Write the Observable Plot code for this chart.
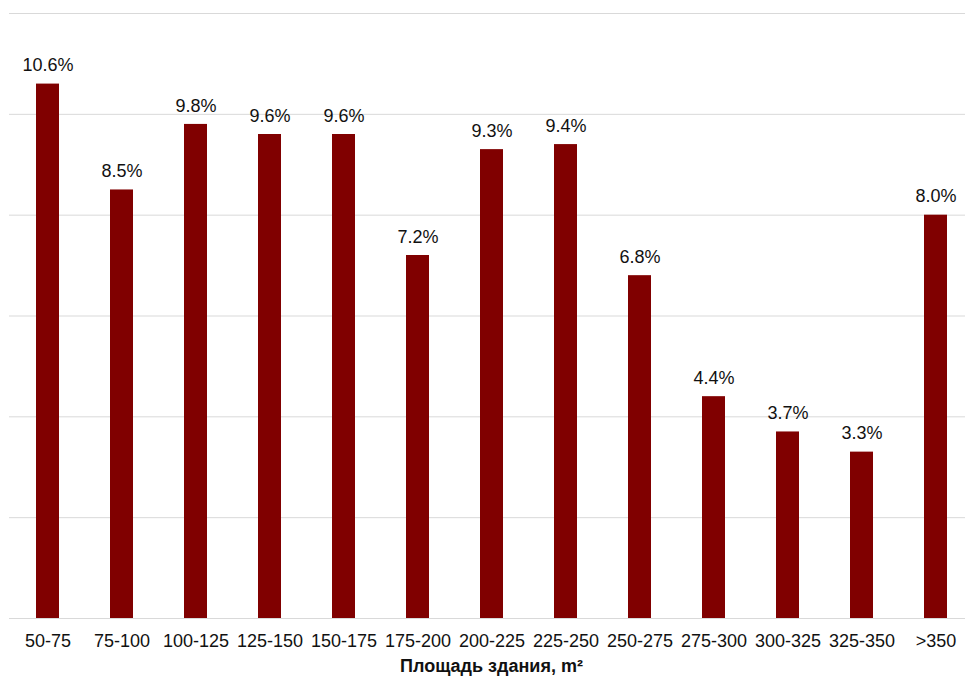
<!DOCTYPE html>
<html>
<head>
<meta charset="utf-8">
<script src="https://cdn.jsdelivr.net/npm/d3@7"></script>
<script src="https://cdn.jsdelivr.net/npm/@observablehq/plot@0.6"></script>
<style>
  body { margin: 0; background: #fff; font-family: "Liberation Sans", Arial, sans-serif; }
  #title { width: 965px; box-sizing: border-box; padding-left: 18px; padding-top: 4px; text-align: center; font-weight: bold; font-size: 18px; line-height: 20px; color: #111; }
</style>
</head>
<body>
<div id="chart"></div>
<div id="title">Площадь здания, m²</div>
<script>
const categories = ["50-75","75-100","100-125","125-150","150-175","175-200","200-225","225-250","250-275","275-300","300-325","325-350",">350"];
const values = [10.6, 8.5, 9.8, 9.6, 9.6, 7.2, 9.3, 9.4, 6.8, 4.4, 3.7, 3.3, 8.0];
const gridTicks = [0, 2, 4, 6, 8, 10, 12];

const data = categories.map((c, i) => ({cat: c, v: values[i]}));

const chart = Plot.plot({
  width: 965,
  height: 652,
  marginTop: 13,
  marginBottom: 34,
  marginLeft: 9,
  marginRight: 0,
  style: {fontFamily: "'Liberation Sans', Arial, sans-serif", background: "#fff"},
  x: {domain: categories, range: [9.2, 973.8], padding: 0.686, paddingOuter: 0.343, label: null},
  y: {domain: [0, 12], axis: null},
  marks: [
    Plot.ruleY(gridTicks, {stroke: "#d9d9d9", strokeWidth: 1}),
    Plot.barY(data, {x: "cat", y: "v", fill: "#800000"}),
    Plot.text(data, {x: "cat", y: "v", text: d => d.v.toFixed(1) + "%", dy: -18.5, lineAnchor: "middle", fontSize: 18, fill: "#111"}),
    Plot.axisX({tickSize: 0, tickPadding: 16, fontSize: 18, color: "#111", label: null})
  ]
});
document.getElementById("chart").appendChild(chart);
</script>
</body>
</html>
